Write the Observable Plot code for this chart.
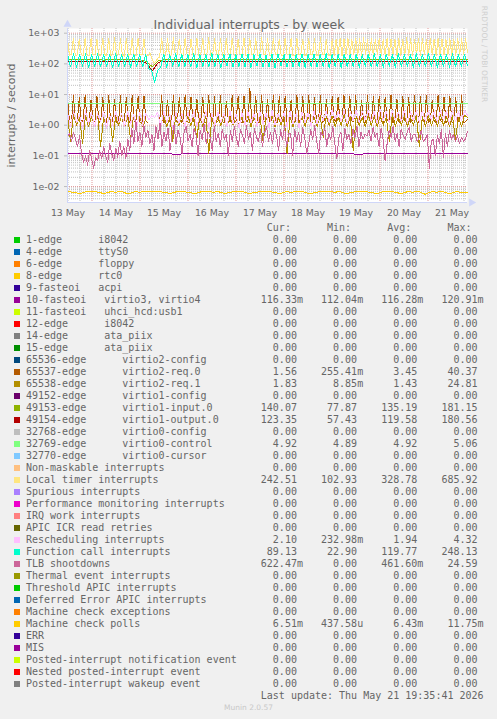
<!DOCTYPE html>
<html><head><meta charset="utf-8">
<script src="https://cdn.jsdelivr.net/npm/d3@7"></script>
<script src="https://cdn.jsdelivr.net/npm/@observablehq/plot@0.6"></script>
<style>
html,body{margin:0;padding:0;background:#f0f0f0;}
#wrap{position:relative;width:497px;height:719px;background:#f0f0f0;overflow:hidden;}
#chart{position:absolute;left:0;top:0;}
.lg{position:absolute;left:26px;font-family:"DejaVu Sans Mono",monospace;font-size:10px;line-height:12px;height:12px;color:#666;white-space:pre;}
.sw{position:absolute;left:14px;width:6px;height:6px;}
.ver{position:absolute;left:0;width:497px;text-align:center;font-family:"DejaVu Sans",sans-serif;font-size:7.5px;color:#c8c8c8;}
</style></head><body><div id="wrap"><div id="chart"></div></div>
<script>
// ---------- legend data ----------
const legendLabels = [
  "1-edge      i8042","4-edge      ttyS0","6-edge      floppy","8-edge      rtc0","9-fasteoi   acpi",
  "10-fasteoi   virtio3, virtio4","11-fasteoi   uhci_hcd:usb1","12-edge      i8042","14-edge      ata_piix","15-edge      ata_piix",
  "65536-edge      virtio2-config","65537-edge      virtio2-req.0","65538-edge      virtio2-req.1","49152-edge      virtio1-config",
  "49153-edge      virtio1-input.0","49154-edge      virtio1-output.0","32768-edge      virtio0-config","32769-edge      virtio0-control",
  "32770-edge      virtio0-cursor","Non-maskable interrupts","Local timer interrupts","Spurious interrupts",
  "Performance monitoring interrupts","IRQ work interrupts","APIC ICR read retries","Rescheduling interrupts",
  "Function call interrupts","TLB shootdowns","Thermal event interrupts","Threshold APIC interrupts",
  "Deferred Error APIC interrupts","Machine check exceptions","Machine check polls","ERR","MIS",
  "Posted-interrupt notification event","Nested posted-interrupt event","Posted-interrupt wakeup event"
];
const legendColors = [
  "#00CC00","#0066B3","#FF8000","#FFCC00","#330099","#990099","#CCFF00","#FF0000","#808080","#008F00",
  "#00487D","#B35A00","#B38F00","#6B006B","#8FB300","#B30000","#BEBEBE","#80FF80","#80C9FF","#FFC080",
  "#FFE680","#AA80FF","#EE00CC","#FF8080","#666600","#FFBFFF","#00FFCC","#CC6699","#999900","#00CC00",
  "#0066B3","#FF8000","#FFCC00","#330099","#990099","#CCFF00","#FF0000","#808080"
];
const Z = "0.00";
const curVals = [Z,Z,Z,Z,Z,"116.33m",Z,Z,Z,Z,Z,"1.56","1.83",Z,"140.07","123.35",Z,"4.92",Z,Z,"242.51",Z,Z,Z,Z,"2.10","89.13","622.47m",Z,Z,Z,Z,"6.51m",Z,Z,Z,Z,Z];
const minVals = [Z,Z,Z,Z,Z,"112.04m",Z,Z,Z,Z,Z,"255.41m","8.85m",Z,"77.87","57.43",Z,"4.89",Z,Z,"102.93",Z,Z,Z,Z,"232.98m","22.90",Z,Z,Z,Z,Z,"437.58u",Z,Z,Z,Z,Z];
const avgVals = [Z,Z,Z,Z,Z,"116.28m",Z,Z,Z,Z,Z,"3.45","1.43",Z,"135.19","119.58",Z,"4.92",Z,Z,"328.78",Z,Z,Z,Z,"1.94","119.77","461.60m",Z,Z,Z,Z,"6.43m",Z,Z,Z,Z,Z];
const maxVals = [Z,Z,Z,Z,Z,"120.91m",Z,Z,Z,Z,Z,"40.37","24.81",Z,"181.15","180.56",Z,"5.06",Z,Z,"685.92",Z,Z,Z,Z,"4.32","248.13","24.59",Z,Z,Z,Z,"11.75m",Z,Z,Z,Z,Z];
const lastUpdate = "Last update: Thu May 21 19:35:41 2026";
const versionText = "Munin 2.0.57";

// ---------- axis data ----------
const titleText = "Individual interrupts - by week";
const yLabelText = "interrupts / second";
const watermark = "RRDTOOL / TOBI OETIKER";
const yMajor = [0.01, 0.1, 1, 10, 100, 1000];
const yTickLabels = ["1e-02","1e-01","1e+00","1e+01","1e+02","1e+03"];
const dayLabels = [13,14,15,16,17,18,19,20,21];

// ---------- series values (each evenly spaced over the week window) ----------
const irq10 = [0.116,0.117,0.116,0.115,0.116,0.117,0.116,0.116,0.115,0.116,0.117,0.116];
const virtio2req0 = [
 8.5,1.3,1.2, 9,1.4,1.3, 8,1.2,1.5, 9.5,1.3,1.2, 6.5,1.5,1.3,
 9,1.2,1.4, 8,1.3,1.2, 9.5,1.4,1.3, 7,1.2,1.1, 9,1.3,1.4,
 8,1.4,1.2, 9.5,1.3,1.5, 8.5,1.2,1.3, 9,1.4,1.2, null,null,null,
 null,null,1.3, 9,1.2,1.4, 6.5,1.3,1.2, 9,1.5,1.3, 8,1.2,1.4,
 9.5,1.3,1.2, 8.5,1.4,1.3, 7,1.2,1.5, 8,1.3,1.2, 9.5,1.4,1.3,
 8.5,1.2,1.4, 9,1.3,1.2, 6,1.5,1.3, 9.5,1.2,1.4, 8.5,1.3,1.2,
 9,1.4,1.3, 16,1.2,1.5, 8.5,1.3,1.2, 9,1.4,1.3, 7,1.2,1.4,
 9.5,1.3,1.2, 8.5,1.5,1.3, 9,1.2,1.4, 6.5,1.3,1.2, 9.5,1.4,1.3,
 8.5,1.2,1.5, 9,1.3,1.2, 8,1.4,1.3, 9.5,1.2,1.4, 7,1.3,1.2,
 9,1.5,1.3, 8,1.2,1.4, 9.5,1.3,1.2, 8.5,1.4,1.3, 9,1.2,1.5,
 6.5,1.3,1.2, 9.5,1.4,1.3, 8.5,1.2,1.4, 9,1.3,1.2, 8,1.5,1.3,
 9.5,1.2,1.4, 7,1.3,1.2, 9,1.4,1.3, 8,1.2,1.5, 9.5,1.3,1.2,
 8.5,1.4,1.3, 9,1.2,1.4, 6.5,1.3,1.2, 9.5,1.5,1.3, 8.5,1.2,1.4,
 9,1.3,1.2, 8,1.4,1.3, 9.5,1.2,1.3, 1.56];
const virtio2req1 = [
 2.0,0.3,2.2,1.0,1.8,0.25,2.1,0.9,1.9,1.0,2.2,0.2,1.8,0.9,2.0,0.3,1.9,1.0,2.1,0.9,
 1.8,0.35,2.2,1.0,1.9,0.9,1.5,null,null,null,null,1.0,2.0,0.9,1.8,0.3,2.1,1.0,1.9,0.9,
 2.0,1.0,1.8,0.35,2.2,0.9,1.9,0.12,2.0,0.9,1.8,1.0,2.1,0.9,1.9,1.0,2.0,0.9,1.8,1.0,
 2.2,0.9,1.9,1.0,2.0,0.3,1.8,1.0,2.1,0.9,1.9,1.0,2.0,0.12,1.8,0.9,2.2,1.0,1.9,0.9,
 2.0,1.0,1.8,0.9,2.1,0.4,1.9,1.0,2.0,0.9,1.8,1.0,2.2,0.9,1.9,0.15,2.0,1.0,1.8,0.9,
 2.1,1.0,1.9,0.9,2.0,1.0,1.8,0.3,2.2,0.9,1.9,1.0,2.0,0.9,1.8,1.0,2.1,0.2,1.9,0.9,
 2.0,1.0,1.8,0.9,2.2,1.0,1.9,0.9,2.0,0.35,1.8,0.9,2.1,1.83];
const virtio1input = [
 135,137,134,136,138,135,133,136,137,134,136,135,137,120,80,128,136,134,137,135,
 136,138,134,135,137,136,134,138,135,136,137,134,135,136,138,135,134,137,136,135,
 134,136,138,135,137,134,136,135,137,138,135,134,136,137,135,138,136,134,135,137,
 136,135,134,137,138,136,140];
const virtio1output = [
 120,122,119,121,123,120,118,121,122,119,121,120,122,105,60,113,121,119,122,120,
 121,123,119,120,122,121,119,123,120,121,122,119,120,121,123,120,119,122,121,120,
 119,121,123,120,122,119,121,120,122,123,120,119,121,122,120,123,121,119,120,122,
 121,120,119,122,123,121,123];
const virtio0control = [4.92,4.93,4.91,4.92,4.95,4.92,4.91,4.92,4.93,4.92,4.91,4.92];
const localTimer = [
 660,190,200, 690,180,195, 650,200,185, 700,185,190, 670,195,200,
 640,180,190, 690,200,185, 660,190,195, 700,185,200, 650,195,180,
 680,190,200, 660,185,190, 700,200,195, 640,190,180, 230,150,110,
 120,150,170, 690,200,185, 660,190,195, 700,185,200, 650,195,190,
 680,200,185, 640,190,195, 690,185,200, 670,195,190, 700,190,185,
 650,200,195, 680,185,190, 660,195,200, 700,190,185, 640,200,190,
 690,185,195, 670,195,200, 650,190,185, 700,200,190, 660,185,195,
 680,195,200, 640,190,185, 690,200,195, 670,185,190, 700,195,200,
 650,190,185, 680,200,195, 660,185,190, 700,195,200, 640,190,185,
 650,190,620,200,680,185,640,195,690,180,630,200,670,190,650,185,700,195,620,190,
 660,185,640,200,690,190,630,195,670,180,650,200,620,190,680,185,640,195,700,190,
 650,185,630,200,670,190,660,195,620,180,690,200,640,190,680,185,650,195,630,200,
 670,190,640,185,690,200,650,195,660,243];
const rescheduling = [
 2.5,0.9,2.8,1.2,2.2,0.8,3,1.1,2.6,0.9,2.4,1.3,2.9,0.8,2.3,1.0,2.7,1.2,2.5,0.9,
 2.8,1.1,2.2,0.8,2.6,1.0,2.4,1.5,2.0,1.8,2.6,0.9,2.9,1.2,2.3,0.8,2.7,1.1,2.5,0.9,
 2.6,1.3,2.8,0.9,2.2,1.1,3,0.8,2.5,1.0,2.7,1.2,2.4,0.9,2.9,1.1,2.3,0.8,2.6,1.0,
 2.8,1.2,2.4,0.9,2.7,1.1,2.5,0.8,3,1.0,2.3,1.3,2.6,0.9,2.8,1.1,2.4,0.8,2.7,1.2,
 2.5,0.9,3,1.1,2.6,1.4,2.9,1.2,3.2,1.5,2.8,1.3,3,1.1,2.7,1.4,3.1,1.2,2.9,1.5,
 3,1.3,2.8,1.1,3.2,1.4,2.9,1.2,3,1.5,2.7,1.3,3.1,1.1,2.8,1.4,3,1.2,2.9,1.3,
 3.1,1.5,2.8,1.2,3,1.4,2.9,1.1,3.2,1.3,2.7,1.4,3,2.1];
const functionCall = [
 205,80,215,78,200,85,210,76,198,82,212,79,205,84,200,77,215,80,208,83,
 202,78,210,82,198,80,205,70,60,25,60,80,205,78,200,84,214,79,206,82,
 200,80,212,77,204,83,198,79,215,81,207,76,201,84,210,78,199,82,213,80,
 205,77,200,83,211,79,198,81,208,76,214,84,202,78,206,80,199,82,212,77,
 204,83,210,79,200,81,215,76,207,84,198,78,209,80,203,82,211,77,200,83,
 206,79,213,81,199,76,208,84,202,78,215,80,205,82,198,77,210,83,204,79,
 212,81,200,76,207,84,199,78,214,80,203,82,206,89];
const tlb = [
 0.4,0.55,0.3,0.6,0.35,0.2,0.45,0.12,0.06,0.1,0.05,0.15,0.08,0.04,0.09,0.07,0.15,0.08,0.2,0.1,
 0.06,0.25,0.12,0.07,0.18,0.09,0.3,0.1,0.2,0.08,0.35,0.15,0.8,0.25,1.5,0.3,0.6,0.2,1.0,0.4,
 0.7,0.25,0.5,0.15,0.9,0.35,1.2,0.2,0.6,0.3,0.8,0.15,0.5,1.0,0.25,0.7,0.4,0.12,0.6,0.9,
 0.3,0.5,0.2,0.8,0.45,0.1,0.7,0.35,1.1,0.25,0.6,0.4,0.15,0.9,0.3,0.55,0.2,0.75,0.35,0.5,
 0.1,0.65,0.3,0.9,0.4,0.2,0.7,0.5,0.25,1.0,0.35,0.6,0.15,0.8,0.4,0.3,0.7,0.2,0.55,0.9,
 0.3,0.6,0.25,0.8,0.45,0.15,0.7,0.35,0.9,0.2,0.55,0.55,0.1,0.75,0.3,0.6,0.2,0.85,0.4,0.12,
 0.25,0.7,0.35,0.95,0.3,0.12,0.6,0.45,0.8,0.2,0.55,0.35,0.9,0.25,0.08,0.4,0.6,0.15,0.8,0.35,
 0.5,0.25,0.75,0.4,0.9,0.2,0.6,0.35,0.5,0.45,0.7,0.3,0.85,0.4,0.55,0.2,0.8,0.35,0.07,0.25,
 0.7,0.4,0.9,0.3,0.55,0.2,0.75,0.45,0.35,0.6,0.85,0.3,0.5,0.5,0.3,0.4,0.7,0.3,0.35,0.5,
 0.04,0.3,0.35,0.1,0.45,0.25,0.7,0.09,0.55,0.2,0.65,0.35,0.5,0.3,0.45,0.25,0.4,0.3,0.35,0.62];
const mcPolls = [
 0.0067,0.0066,0.0058,0.0067,0.0068,0.0066,0.0059,0.0067,0.0066,0.0068,0.0057,0.0067,0.0066,0.0068,0.0070,0.0067,0.0066,0.0059,0.0068,0.0067,
 0.0066,0.0058,0.0067,0.0068,0.0066,0.0067,0.0059,0.0066,0.0068,0.0067,0.0058,0.0066,0.0067,0.0068,0.0066,0.0059,0.0067,0.0066,0.0068,0.0067,
 0.0057,0.0066,0.0067,0.0068,0.0066,0.0067,0.0059,0.0066,0.0068,0.0067,0.0066,0.0058,0.0067,0.0068,0.0066,0.0059,0.0067,0.0066,0.0068,0.0056,
 0.0067,0.0066,0.0068,0.0058,0.0067,0.0066,0.0065];

// drawing order = legend order (later on top)
const drawn = [
  {vals: irq10, color: legendColors[5]},
  {vals: virtio2req0, color: legendColors[11]},
  {vals: virtio2req1, color: legendColors[12]},
  {vals: virtio1input, color: legendColors[14]},
  {vals: virtio1output, color: legendColors[15]},
  {vals: virtio0control, color: legendColors[17]},
  {vals: localTimer, color: legendColors[20]},
  {vals: rescheduling, color: legendColors[25]},
  {vals: functionCall, color: legendColors[26]},
  {vals: tlb, color: legendColors[27]},
  {vals: mcPolls, color: legendColors[32]}
];

// ---------- scales / layout ----------
const W = 497, H = 222;
const x0 = new Date(Date.UTC(2026,4,13,11,45));
const x1 = new Date(Date.UTC(2026,4,21,19,45));
const yDomain = [0.00302, 1422];
const HOUR = 3600e3;

function rows(vals){
  const n = vals.length, span = x1 - x0;
  return vals.map((v,i) => ({t: new Date(+x0 + i*span/(n-1)), v}));
}
const xLabelDates = dayLabels.map(d => new Date(Date.UTC(2026,4,d,12)));
const xMajor = [], xMinor = [];
for (let t = Date.UTC(2026,4,13,12); t <= +x1; t += 6*HOUR) {
  const d = new Date(t);
  if (t < +x0) continue;
  if (d.getUTCHours() === 0) xMajor.push(d); else xMinor.push(d);
}
const yMinor = [];
for (let e = -3; e <= 3; e++) for (let m = 2; m <= 9; m++) {
  const v = m * Math.pow(10, e);
  if (v >= yDomain[0] && v <= yDomain[1]) yMinor.push(v);
}

const axisColor = "#CFD6F8";
const chart = Plot.plot({
  width: W, height: H,
  marginLeft: 67, marginRight: 30, marginTop: 28, marginBottom: H - 202,
  style: {fontFamily: "'DejaVu Sans', sans-serif", fontSize: "9.33px", color: "#666", background: "transparent", overflow: "visible"},
  x: {type: "utc", domain: [x0, x1], axis: null},
  y: {type: "log", domain: yDomain, axis: null},
  marks: [
    Plot.frame({fill: "white", stroke: null}),
    Plot.ruleY(yMinor, {stroke: "#c0c0c0", strokeDasharray: "1,1"}),
    Plot.ruleX(xMinor, {stroke: "#c0c0c0", strokeDasharray: "1,1"}),
    Plot.ruleY(yMajor, {stroke: "#e29a9a", strokeDasharray: "1,1"}),
    Plot.ruleX(xMajor, {stroke: "#e29a9a", strokeDasharray: "1,1"}),
    ...drawn.map(s => Plot.line(rows(s.vals), {x: "t", y: "v", stroke: s.color, strokeWidth: 1, shapeRendering: "crispEdges"})),
    Plot.ruleX([x0], {stroke: axisColor}),
    Plot.ruleY([yDomain[0]], {stroke: axisColor}),
    Plot.dot([x0], {x: d => d, frameAnchor: "top", dy: -4, symbol: "triangle", r: 3, fill: axisColor, stroke: null}),
    Plot.dot([yDomain[0]], {y: d => d, frameAnchor: "right", dx: 4, symbol: "triangle", rotate: 90, r: 3, fill: axisColor, stroke: null}),
    Plot.axisY(yMajor, {tickSize: 3, tickPadding: 5, stroke: "#bbb", tickFormat: d => yTickLabels[yMajor.indexOf(d)], label: null}),
    Plot.axisX(xLabelDates, {tickSize: 0, tickPadding: 7, tickFormat: d => `${d.getUTCDate()} May`, label: null}),
    Plot.text([titleText], {frameAnchor: "top", dx: -18.5, dy: -8.7, fontSize: 12.5, fill: "#666"}),
    Plot.text([yLabelText], {frameAnchor: "left", rotate: -90, dx: -56, fontSize: 11, fill: "#666", textAnchor: "middle"}),
    Plot.text([watermark], {frameAnchor: "top-right", rotate: 90, dx: 20, dy: 25.5, fontSize: 7.5, fill: "#cfcfcf", textAnchor: "middle"})
  ]
});
document.getElementById("chart").appendChild(chart);

// ---------- legend (HTML, below the SVG) ----------
const wrap = document.getElementById("wrap");
function fmt(s){ return /[0-9]$/.test(s) ? s + " " : s; }
function addLine(text, top){
  const el = document.createElement("div");
  el.className = "lg"; el.style.top = top + "px"; el.textContent = text;
  wrap.appendChild(el);
}
const top0 = 222;
addLine(" ".repeat(40) + "Cur:" + "      Min:" + "      Avg:" + "      Max:", top0);
legendLabels.forEach((lab, i) => {
  const top = top0 + 12*(i+1);
  addLine(lab.padEnd(36) + fmt(curVals[i]).padStart(10) + fmt(minVals[i]).padStart(10) + fmt(avgVals[i]).padStart(10) + fmt(maxVals[i]).padStart(10), top);
  const sw = document.createElement("div");
  sw.className = "sw"; sw.style.top = (top + 3) + "px"; sw.style.background = legendColors[i];
  wrap.appendChild(sw);
});
addLine(lastUpdate.padStart(76), top0 + 12*39);
const ver = document.createElement("div");
ver.className = "ver"; ver.style.top = "703px"; ver.textContent = versionText;
wrap.appendChild(ver);
</script></body></html>
